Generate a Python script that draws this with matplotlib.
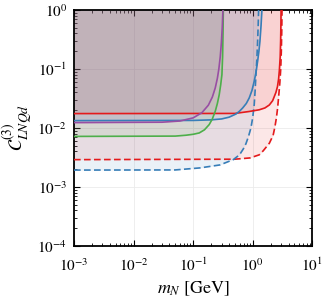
import matplotlib
matplotlib.use('Agg')
import matplotlib.pyplot as plt
from matplotlib.ticker import LogLocator, NullFormatter

plt.rcParams['mathtext.fontset'] = 'stix'
plt.rcParams['font.family'] = ['STIXGeneral', 'DejaVu Serif']

# --- data ---
purple_m = [0.001, 0.03, 0.06, 0.1, 0.14, 0.18, 0.21, 0.235, 0.255, 0.27, 0.285, 0.298, 0.308, 0.316]
purple_c = [0.0123, 0.0125, 0.0131, 0.0148, 0.0181, 0.0243, 0.0334, 0.0477, 0.0694, 0.100, 0.161, 0.282, 0.512, 1.0]

green_m = [0.001, 0.05, 0.0757, 0.1, 0.1265, 0.155, 0.186, 0.21, 0.235, 0.255, 0.274, 0.29, 0.304, 0.312, 0.317, 0.321]
green_c = [0.00718, 0.00727, 0.00752, 0.0078, 0.00822, 0.0093, 0.0114, 0.0142, 0.0192, 0.026, 0.0367, 0.054, 0.080, 0.16, 0.40, 1.0]

blue_m = [0.001, 0.1, 0.2, 0.3, 0.4, 0.522, 0.6, 0.678, 0.78, 0.873, 0.97, 1.059, 1.14, 1.208, 1.27, 1.321, 1.38, 1.426]
blue_c = [0.0133, 0.0134, 0.0137, 0.0142, 0.0152, 0.0172, 0.0192, 0.0218, 0.026, 0.0322, 0.043, 0.0619, 0.090, 0.135, 0.20, 0.295, 0.55, 1.0]

bluedash_m = [0.001, 0.05, 0.13, 0.282, 0.471, 0.6, 0.694, 0.769, 0.85, 0.933, 1.0, 1.059, 1.10, 1.132, 1.17, 1.208, 1.235, 1.256]
bluedash_c = [0.00193, 0.00194, 0.0021, 0.00236, 0.0029, 0.0035, 0.0044, 0.0054, 0.0072, 0.0100, 0.015, 0.0248, 0.045, 0.080, 0.14, 0.295, 0.55, 1.0]

red_m = [0.001, 0.5, 0.873, 1.285, 1.6, 1.9, 2.16, 2.45, 2.6, 2.72, 2.8, 2.89, 2.94, 2.97, 2.99]
red_c = [0.0175, 0.0176, 0.0190, 0.0203, 0.0218, 0.0245, 0.029, 0.040, 0.050, 0.068, 0.095, 0.16, 0.30, 0.55, 1.0]

reddash_m = [0.001, 0.5, 0.9, 1.285, 1.5, 1.9, 2.2, 2.36, 2.5, 2.62, 2.75, 2.85, 2.95, 3.02, 3.07, 3.1]
reddash_c = [0.0029, 0.00295, 0.0031, 0.0035, 0.0041, 0.0055, 0.0075, 0.0105, 0.015, 0.022, 0.038, 0.058, 0.10, 0.20, 0.45, 1.0]

x_ticks = [1e-3, 1e-2, 1e-1, 1e0, 1e1]
y_ticks = [1e-4, 1e-3, 1e-2, 1e-1, 1e0]

RED = '#e41a1c'
BLUE = '#377eb8'
GREEN = '#4daf4a'
PURPLE = '#984ea3'

fig = plt.figure(figsize=(3.26, 3.01), dpi=100)
ax = fig.add_axes([0.227, 0.183, 0.731, 0.784])
ax.set_xscale('log')
ax.set_yscale('log')

series = [
    (reddash_m, reddash_c, RED, '--'),
    (bluedash_m, bluedash_c, BLUE, '--'),
    (red_m, red_c, RED, '-'),
    (blue_m, blue_c, BLUE, '-'),
    (green_m, green_c, GREEN, '-'),
    (purple_m, purple_c, PURPLE, '-'),
]
for m, c, col, ls in series:
    ax.fill_between(m, c, [1.0] * len(c), color=col, alpha=0.1, lw=0, zorder=1)
for m, c, col, ls in series:
    ax.plot(m, c, color=col, ls=ls, lw=1.2, zorder=3,
            dashes=(4, 2) if ls == '--' else (None, None))

ax.set_xlim(1e-3, 1e1)
ax.set_ylim(1e-4, 1e0)
ax.set_xticks(x_ticks)
ax.set_yticks(y_ticks)
ax.xaxis.set_minor_locator(LogLocator(base=10, subs=range(2, 10), numticks=20))
ax.yaxis.set_minor_locator(LogLocator(base=10, subs=range(2, 10), numticks=20))
ax.xaxis.set_minor_formatter(NullFormatter())
ax.yaxis.set_minor_formatter(NullFormatter())
ax.grid(True, which='major', color='#ebebeb', lw=0.6, zorder=0)
ax.set_axisbelow(True)
ax.tick_params(which='both', direction='in', top=True, right=True, labelsize=11)
ax.tick_params(axis='x', which='major', pad=8)
ax.tick_params(axis='y', which='major', pad=5)
ax.tick_params(which='major', length=4, width=0.8)
ax.tick_params(which='minor', length=2, width=0.6)
for s in ax.spines.values():
    s.set_linewidth(1.3)

ax.set_xlabel(r'$m_N$ [GeV]', fontsize=13, labelpad=4)
ax.set_ylabel(r'$\mathcal{C}^{(3)}_{LNQd}$', fontsize=14, labelpad=2)

fig.savefig('out.png', dpi=100)
